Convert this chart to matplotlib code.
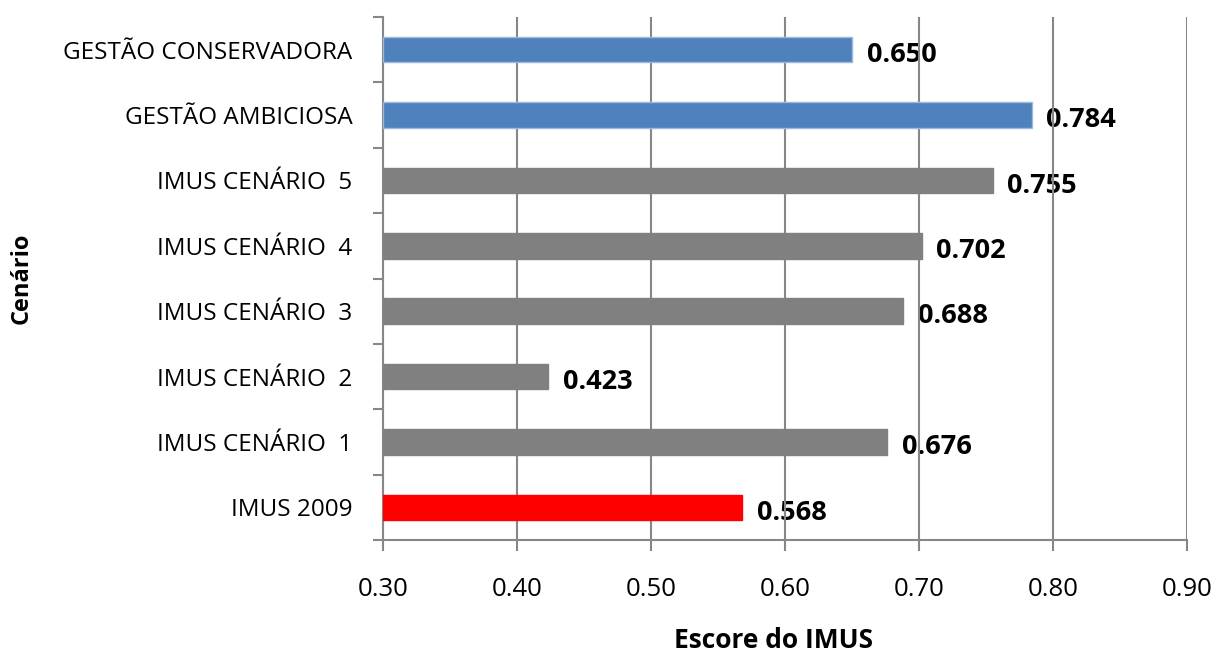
import matplotlib
matplotlib.use("Agg")
import matplotlib.pyplot as plt

plt.rcParams['font.family'] = ['Open Sans', 'DejaVu Sans']

# scenarios from bottom to top
cenarios = ["IMUS 2009", "IMUS CENÁRIO  1", "IMUS CENÁRIO  2", "IMUS CENÁRIO  3",
            "IMUS CENÁRIO  4", "IMUS CENÁRIO  5", "GESTÃO AMBICIOSA", "GESTÃO CONSERVADORA"]
escores = [0.568, 0.676, 0.423, 0.688, 0.702, 0.755, 0.784, 0.650]
cores = ["#FF0000", "#808080", "#808080", "#808080",
         "#808080", "#808080", "#4F81BD", "#4F81BD"]
bordas = ["#FF0000", "#808080", "#808080", "#808080",
          "#808080", "#808080", "#9DB8DD", "#9DB8DD"]
xticks = [0.30, 0.40, 0.50, 0.60, 0.70, 0.80, 0.90]

fig = plt.figure(figsize=(12.16, 6.53), dpi=100)
ax = fig.add_axes([383 / 1216, 1 - 540 / 653, (1187 - 383) / 1216, (540 - 17) / 653])

xmin = xticks[0]
ypos = list(range(len(cenarios)))
ax.barh(ypos, [v - xmin for v in escores], left=xmin, height=0.39,
        color=cores, edgecolor=bordas, linewidth=1, zorder=3)

for y, v in zip(ypos, escores):
    ax.text(v + 0.011, y - 0.08, f"{v:.3f}", ha="left", va="center",
            fontsize=19.5, fontweight="bold", zorder=1)

ax.set_xlim(xticks[0], xticks[-1])
ax.set_ylim(-0.5, len(cenarios) - 0.5)
ax.set_xticks(xticks)
ax.set_xticklabels([f"{t:.2f}" for t in xticks], fontsize=18.5)
ax.xaxis.grid(True, color="#878787", linewidth=1.5, zorder=2)
ax.set_axisbelow(False)
for line in ax.get_xgridlines():
    line.set_zorder(2)

# category labels between boundary ticks
ax.set_yticks([y + 0.5 for y in range(-1, len(cenarios))])
ax.set_yticklabels([])
ax.set_yticks(ypos, minor=True)
ax.set_yticklabels(cenarios, minor=True, fontsize=17.5)
ax.tick_params(axis="y", which="minor", length=0, pad=22)
ax.tick_params(axis="y", which="major", length=7, width=1.5, color="#878787")
ax.tick_params(axis="x", length=8, width=1.5, color="#878787", pad=19)

for side in ["top", "right"]:
    ax.spines[side].set_visible(False)
for side in ["left", "bottom"]:
    ax.spines[side].set_color("#878787")
    ax.spines[side].set_linewidth(1.5)

ax.set_xlabel("Escore do IMUS", fontsize=19, fontweight="bold", va="center")
ax.xaxis.set_label_coords(390 / 804, -100 / 523)
fig.text(22 / 1216, 1 - 278 / 653, "Cenário", rotation=90, fontsize=17,
         fontweight="bold", ha="center", va="center")

fig.savefig("out.png", dpi=100)
